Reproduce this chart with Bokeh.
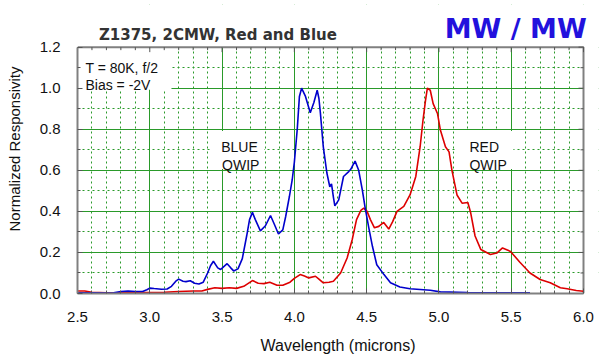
from bokeh.plotting import figure
from bokeh.models import (FixedTicker, NumeralTickFormatter, Label, BoxAnnotation, Range1d)
from bokeh.embed import file_html
from bokeh.resources import INLINE

# ---- data ----
blue_wl = [2.50, 2.60, 2.70, 2.75, 2.80, 2.85, 2.90, 2.95, 2.98, 3.00, 3.03, 3.08, 3.12,
           3.15, 3.18, 3.20, 3.23, 3.25, 3.28, 3.31, 3.34, 3.37, 3.40, 3.42, 3.44, 3.47,
           3.49, 3.51, 3.535, 3.56, 3.58, 3.61, 3.64, 3.67, 3.69, 3.71, 3.73, 3.765, 3.80,
           3.835, 3.86, 3.89, 3.92, 3.94, 3.965, 3.985, 4.00, 4.02, 4.035, 4.05, 4.077,
           4.11, 4.135, 4.158, 4.17, 4.18, 4.20, 4.225, 4.245, 4.257, 4.27, 4.28, 4.307,
           4.34, 4.376, 4.39, 4.405, 4.42, 4.445, 4.47, 4.49, 4.515, 4.54, 4.57, 4.62,
           4.665, 4.73, 4.80, 4.94, 5.01, 5.20, 5.40, 5.63]
blue_resp = [0.004, 0.004, 0.002, 0.004, 0.010, 0.012, 0.010, 0.010, 0.018, 0.026, 0.024,
             0.021, 0.022, 0.035, 0.060, 0.070, 0.060, 0.058, 0.062, 0.050, 0.046, 0.055,
             0.100, 0.135, 0.157, 0.125, 0.117, 0.130, 0.145, 0.125, 0.110, 0.120, 0.170,
             0.280, 0.360, 0.395, 0.360, 0.305, 0.330, 0.380, 0.340, 0.290, 0.310, 0.375,
             0.470, 0.553, 0.640, 0.800, 0.960, 1.000, 0.960, 0.880, 0.930, 0.990, 0.950,
             0.880, 0.715, 0.587, 0.520, 0.534, 0.470, 0.427, 0.456, 0.570, 0.594, 0.605,
             0.625, 0.645, 0.600, 0.505, 0.416, 0.320, 0.230, 0.140, 0.092, 0.052, 0.032,
             0.023, 0.016, 0.008, 0.005, 0.003, 0.003]

red_wl = [2.50, 2.55, 2.60, 2.70, 2.80, 2.90, 3.00, 3.10, 3.20, 3.30, 3.36, 3.40, 3.45,
          3.50, 3.55, 3.60, 3.65, 3.71, 3.75, 3.79, 3.83, 3.88, 3.92, 3.97, 4.00, 4.04,
          4.07, 4.10, 4.146, 4.17, 4.20, 4.24, 4.27, 4.32, 4.365, 4.40, 4.43, 4.46, 4.48,
          4.503, 4.526, 4.554, 4.584, 4.618, 4.653, 4.68, 4.71, 4.757, 4.80, 4.84, 4.87,
          4.89, 4.907, 4.92, 4.94, 4.96, 4.99, 5.01, 5.045, 5.07, 5.09, 5.125, 5.16, 5.20,
          5.22, 5.25, 5.29, 5.356, 5.40, 5.44, 5.495, 5.56, 5.63, 5.70, 5.77, 5.84, 5.887,
          5.95, 6.00]
red_resp = [0.012, 0.012, 0.006, 0.003, 0.003, 0.005, 0.005, 0.006, 0.010, 0.012, 0.012,
            0.020, 0.028, 0.025, 0.028, 0.025, 0.035, 0.063, 0.050, 0.048, 0.055, 0.040,
            0.040, 0.055, 0.074, 0.092, 0.085, 0.076, 0.084, 0.070, 0.052, 0.055, 0.060,
            0.100, 0.173, 0.262, 0.360, 0.405, 0.416, 0.400, 0.360, 0.320, 0.327, 0.346,
            0.314, 0.350, 0.400, 0.424, 0.480, 0.570, 0.715, 0.845, 0.940, 1.000, 0.990,
            0.925, 0.877, 0.796, 0.715, 0.690, 0.600, 0.480, 0.440, 0.443, 0.392, 0.280,
            0.214, 0.190, 0.197, 0.222, 0.205, 0.152, 0.100, 0.068, 0.052, 0.028, 0.023,
            0.015, 0.011]

x_major = [2.5, 3.0, 3.5, 4.0, 4.5, 5.0, 5.5, 6.0]
x_minor = [2.6, 2.7, 2.8, 2.9, 3.1, 3.2, 3.3, 3.4, 3.6, 3.7, 3.8, 3.9, 4.1, 4.2, 4.3, 4.4,
           4.6, 4.7, 4.8, 4.9, 5.1, 5.2, 5.3, 5.4, 5.6, 5.7, 5.8, 5.9]
y_major = [0.0, 0.2, 0.4, 0.6, 0.8, 1.0, 1.2]
y_minor = [0.1, 0.3, 0.5, 0.7, 0.9, 1.1]

title_text = "Z1375, 2CMW, Red and Blue"
corner_text = "MW / MW"
cond_lines = ["T = 80K, f/2", "Bias = -2V"]
blue_label = ["BLUE", "QWIP"]
red_label = ["RED", "QWIP"]

GREEN = "#2a9a2a"
FONT = "Liberation Sans"
TICK = "#555555"
BORDER = "#808080"

X0, X1 = x_major[0], x_major[-1]
Y0, Y1 = y_major[0], y_major[-1]

# frame extended above / right of the data box so the title texts fit inside it
FRAME_W, FRAME_H = 521, 290
XR_END = X0 + FRAME_W * (X1 - X0) / 506.0
YR_END = Y0 + FRAME_H * (Y1 - Y0) / 247.2

p = figure(width=600, height=356, x_range=Range1d(X0, XR_END), y_range=Range1d(Y0, YR_END),
           output_backend="svg", toolbar_location=None,
           min_border_left=77, min_border_right=2, min_border_top=4, min_border_bottom=62)
p.background_fill_color = "white"
p.border_fill_color = "white"
p.outline_line_color = None

xt = FixedTicker(ticks=x_major, minor_ticks=x_minor)
yt = FixedTicker(ticks=y_major, minor_ticks=y_minor)
p.xaxis.ticker = xt
p.yaxis.ticker = yt
p.xgrid.ticker = xt
p.ygrid.ticker = yt
p.xaxis.bounds = (X0, X1)
p.yaxis.bounds = (Y0, Y1)

for ax in (p.xaxis[0], p.yaxis[0]):
    ax.formatter = NumeralTickFormatter(format="0.0")
    ax.axis_line_color = BORDER
    ax.axis_line_width = 2
    ax.major_tick_in = 5
    ax.major_tick_out = 0
    ax.minor_tick_in = 3
    ax.minor_tick_out = 0
    ax.major_tick_line_color = TICK
    ax.minor_tick_line_color = TICK
    ax.major_label_text_font = FONT
    ax.major_label_text_font_size = "15px"
    ax.major_label_text_color = "#111111"
    ax.axis_label_text_font = FONT
    ax.axis_label_text_font_style = "normal"
    ax.axis_label_text_color = "#111111"

p.xaxis.axis_label = "Wavelength (microns)"
p.xaxis.axis_label_text_font_size = "16px"
p.xaxis.major_label_standoff = 18
p.xaxis.axis_label_standoff = 12
p.yaxis.axis_label = "Normalized Responsivity"
p.yaxis.axis_label_text_font_size = "15px"
p.yaxis.major_label_standoff = 17
p.yaxis.axis_label_standoff = 14

for g in (p.xgrid[0], p.ygrid[0]):
    g.grid_line_color = GREEN
    g.grid_line_width = 1
    g.minor_grid_line_color = GREEN
    g.minor_grid_line_dash = "2 3"
    g.minor_grid_line_width = 1

# white masks: outside the data box, and behind the annotation texts
p.add_layout(BoxAnnotation(bottom=Y1, fill_color="white", fill_alpha=1.0, line_alpha=0,
                           level="underlay"))
p.add_layout(BoxAnnotation(left=X1, fill_color="white", fill_alpha=1.0, line_alpha=0,
                           level="underlay"))
for l, r, t, b in [(2.508, 3.15, 1.195, 0.993), (3.427, 3.79, 0.791, 0.607),
                   (5.114, 5.515, 0.791, 0.607)]:
    p.add_layout(BoxAnnotation(left=l, right=r, top=t, bottom=b, fill_color="white",
                               fill_alpha=1.0, line_alpha=0, level="underlay"))

# top and right edges of the data box (left/bottom come from the axis lines)
p.line(x=[X0, X1, X1], y=[Y1, Y1, Y0], line_color=BORDER, line_width=2)

# inward ticks on the top and right edges of the data box
px_x = (XR_END - X0) / FRAME_W
px_y = (YR_END - Y0) / FRAME_H
p.segment(x0=x_major, y0=[Y1] * len(x_major), x1=x_major, y1=[Y1 - 5 * px_y] * len(x_major),
          line_color=TICK, line_width=1)
p.segment(x0=x_minor, y0=[Y1] * len(x_minor), x1=x_minor, y1=[Y1 - 3 * px_y] * len(x_minor),
          line_color=TICK, line_width=1)
p.segment(x0=[X1] * len(y_major), y0=y_major, x1=[X1 - 5 * px_x] * len(y_major), y1=y_major,
          line_color=TICK, line_width=1)
p.segment(x0=[X1] * len(y_minor), y0=y_minor, x1=[X1 - 3 * px_x] * len(y_minor), y1=y_minor,
          line_color=TICK, line_width=1)

p.line(red_wl, red_resp, line_color="#dd0000", line_width=1.6)
p.line(blue_wl, blue_resp, line_color="#0000cc", line_width=1.6)

def lab(x, y, text, size="14px", color="#111111", font=FONT, style="normal"):
    p.add_layout(Label(x=x, y=y, text=text, text_font=font, text_font_size=size,
                       text_color=color, text_font_style=style,
                       text_baseline="alphabetic", text_align="left"))

lab(2.555, 1.0995, cond_lines[0])
lab(2.555, 1.0146, cond_lines[1])
lab(3.494, 0.715, blue_label[0])
lab(3.500, 0.626, blue_label[1])
lab(5.211, 0.715, red_label[0])
lab(5.211, 0.626, red_label[1])
lab(2.648, 1.2573, title_text, size="15px", color="#333333", font="DejaVu Sans", style="bold")
lab(5.040, 1.2898, corner_text, size="27px", color="#2211dd", font="DejaVu Sans", style="bold")

open("out.html", "w").write(file_html(p, INLINE))
